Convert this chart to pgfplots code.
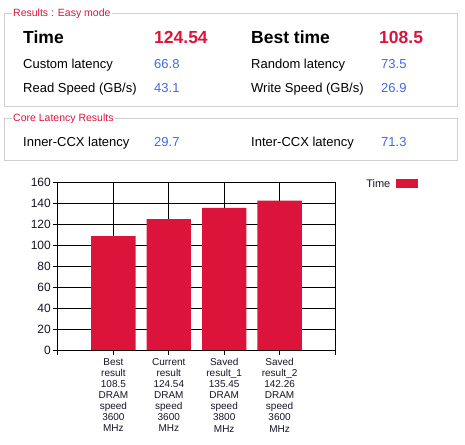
\documentclass[border=0pt]{standalone}
\usepackage{pgfplots}
\usepackage{pgfplotstable}
\pgfplotsset{compat=1.18}
\usepackage{fontspec}
\setmainfont{Liberation Sans}
\setsansfont{Liberation Sans}
\definecolor{crimson}{RGB}{220,20,60}
\definecolor{valblue}{RGB}{65,105,225}
\definecolor{boxgray}{RGB}{208,208,208}
\definecolor{ticktext}{RGB}{20,20,40}
\pgfplotstableread{
x y
1 108.5
2 124.54
3 135.45
4 142.26
}\timedata
\newcommand{\fs}[1]{\fontsize{#1bp}{#1bp}\selectfont}
\begin{document}
\begin{tikzpicture}
\useasboundingbox (0,0) rectangle (465bp,-445bp);
% group box 1
\draw[boxgray, line width=1bp] (4.5bp,-13.5bp) rectangle (457.5bp,-106.5bp);
\node[anchor=west, fill=white, inner xsep=1.5bp, inner ysep=1bp, text=crimson, font=\fs{10.5}] at (11.5bp,-14bp) {Results : Easy mode};
\node[anchor=base west, inner sep=0, font=\bfseries\fs{17.5}] at (23bp,-43bp) {Time};
\node[anchor=base west, inner sep=0, font=\bfseries\fs{17.5}, text=crimson] at (154bp,-43bp) {124.54};
\node[anchor=base west, inner sep=0, font=\bfseries\fs{17.5}] at (251bp,-43bp) {Best time};
\node[anchor=base west, inner sep=0, font=\bfseries\fs{17.5}, text=crimson] at (379bp,-43bp) {108.5};
\node[anchor=base west, inner sep=0, font=\fs{13}] at (23bp,-68bp) {Custom latency};
\node[anchor=base west, inner sep=0, font=\fs{13}, text=valblue] at (154bp,-68bp) {66.8};
\node[anchor=base west, inner sep=0, font=\fs{13}] at (251bp,-68bp) {Random latency};
\node[anchor=base west, inner sep=0, font=\fs{13}, text=valblue] at (381bp,-68bp) {73.5};
\node[anchor=base west, inner sep=0, font=\fs{13}] at (23bp,-92bp) {Read Speed (GB/s)};
\node[anchor=base west, inner sep=0, font=\fs{13}, text=valblue] at (154bp,-92bp) {43.1};
\node[anchor=base west, inner sep=0, font=\fs{13}] at (251bp,-92bp) {Write Speed (GB/s)};
\node[anchor=base west, inner sep=0, font=\fs{13}, text=valblue] at (381bp,-92bp) {26.9};
% group box 2
\draw[boxgray, line width=1bp] (4.5bp,-118.5bp) rectangle (457.5bp,-160.5bp);
\node[anchor=west, fill=white, inner xsep=1.5bp, inner ysep=1bp, text=crimson, font=\fs{10.5}] at (11.5bp,-119bp) {Core Latency Results};
\node[anchor=base west, inner sep=0, font=\fs{13}] at (23bp,-146bp) {Inner-CCX latency};
\node[anchor=base west, inner sep=0, font=\fs{13}, text=valblue] at (154bp,-146bp) {29.7};
\node[anchor=base west, inner sep=0, font=\fs{13}] at (251bp,-146bp) {Inter-CCX latency};
\node[anchor=base west, inner sep=0, font=\fs{13}, text=valblue] at (381bp,-146bp) {71.3};
% chart
\begin{axis}[
  at={(58bp,-350bp)}, anchor=south west,
  scale only axis, width=277bp, height=168bp,
  xmin=0, xmax=5, ymin=0, ymax=160,
  xtick={0,1,2,3,4,5},
  xticklabels={{},{Best\\result\\108.5\\DRAM\\speed\\3600\\MHz},{Current\\result\\124.54\\DRAM\\speed\\3600\\MHz},{Saved\\result\_1\\135.45\\DRAM\\speed\\3800\\MHz},{Saved\\result\_2\\142.26\\DRAM\\speed\\3600\\MHz},{}},
  ytick={0,20,...,160},
  grid=major,
  major grid style={black, line width=1bp},
  axis line style={black, line width=1bp},
  tick style={black, line width=1bp},
  tick align=outside, major tick length=5bp,
  xtick pos=bottom, ytick pos=left,
  /pgf/number format/assume math mode=true,
  yticklabel style={font=\fs{12}, text=ticktext, inner xsep=2bp},
  xticklabel style={font=\fontsize{10bp}{11.1bp}\selectfont, text=ticktext, align=center, inner ysep=3bp},
  legend plot pos=right,
  legend style={at={(rel axis cs:1.105,1.03)}, anchor=north west, draw=none, fill=none, inner sep=0pt, font=\fs{11}, text=ticktext},
  legend image code/.code={\path (0bp,0bp); \fill[crimson] (4bp,-4.5bp) rectangle (26bp,4.5bp);},
]
\addplot[ybar, bar width=0.8, bar shift=0, fill=crimson, draw=none] table[x=x, y=y] {\timedata};
\addlegendentry{Time}
\end{axis}
\end{tikzpicture}
\end{document}
